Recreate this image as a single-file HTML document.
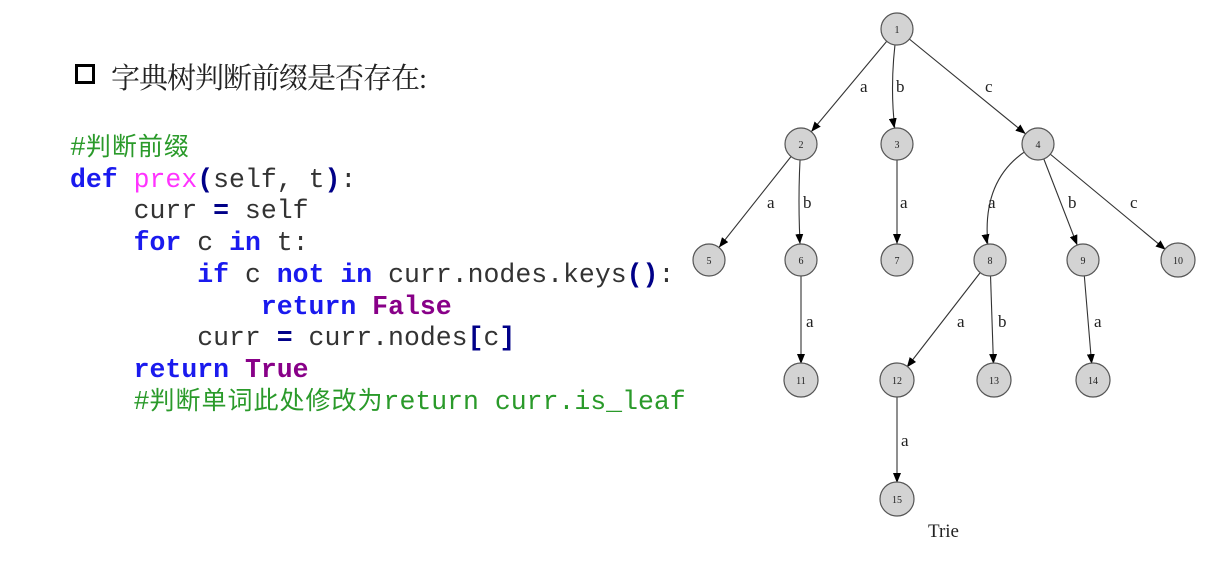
<!DOCTYPE html>
<html><head><meta charset="utf-8"><style>
html,body{margin:0;padding:0;background:#fff;width:1228px;height:568px;overflow:hidden;position:relative}
.t{position:absolute;left:111px;top:56px;font:29px "Liberation Serif","Noto Serif CJK SC",serif;color:#222;white-space:nowrap;letter-spacing:-1px}
.sq{position:absolute;left:75px;top:64px;width:14px;height:14px;border:3px solid #000}
.code{position:absolute;left:70px;top:133px;font:26.5px/31.7px "Liberation Mono","Noto Sans CJK SC",monospace;color:#333;white-space:pre;margin:0}
.k{color:#1a1aee;font-weight:bold}.f{color:#ff33ff}.c{color:#2a9a2a}.v{color:#880088;font-weight:bold}.b{color:#000088;font-weight:bold}
.cj{font-family:"Noto Sans CJK SC",sans-serif;font-size:25px;line-height:20px;letter-spacing:1px}
svg{position:absolute;left:0;top:0}
</style></head><body>
<div class="sq"></div>
<div class="t">字典树判断前缀是否存在:</div>
<pre class="code"><span class="c">#<span class="cj">判断前缀</span></span>
<span class="k">def</span> <span class="f">prex</span><span class="b">(</span>self, t<span class="b">)</span>:
    curr <span class="b">=</span> self
    <span class="k">for</span> c <span class="k">in</span> t:
        <span class="k">if</span> c <span class="k">not</span> <span class="k">in</span> curr.nodes.keys<span class="b">()</span>:
            <span class="k">return</span> <span class="v">False</span>
        curr <span class="b">=</span> curr.nodes<span class="b">[</span>c<span class="b">]</span>
    <span class="k">return</span> <span class="v">True</span>
    <span class="c">#<span class="cj">判断单词此处修改为</span>return curr.is_leaf</span></pre>
<svg width="1228" height="568" viewBox="0 0 1228 568">
<defs><marker id="a" markerUnits="userSpaceOnUse" viewBox="0 0 10 8" refX="26" refY="4" markerWidth="10" markerHeight="8" orient="auto"><path d="M0,0L10,4L0,8z" fill="#000"/></marker></defs>
<g stroke="#333" stroke-width="1.1" fill="none" marker-end="url(#a)">
<path d="M897,29L801,144"/>
<path d="M897,29Q888,90 897,144"/>
<path d="M897,29L1038,144"/>
<path d="M801,144L709,260"/>
<path d="M801,144Q797,200 801,260"/>
<path d="M897,144L897,260"/>
<path d="M1038,144Q975,175 990,260"/>
<path d="M1038,144L1083,260"/>
<path d="M1038,144L1178,260"/>
<path d="M801,260L801,380"/>
<path d="M990,260L897,380"/>
<path d="M990,260L994,380"/>
<path d="M1083,260L1093,380"/>
<path d="M897,380L897,499"/>
</g>
<g fill="#d3d3d3" stroke="#555" stroke-width="1.2">
<circle cx="897" cy="29" r="16"/><circle cx="801" cy="144" r="16"/><circle cx="897" cy="144" r="16"/><circle cx="1038" cy="144" r="16"/>
<circle cx="709" cy="260" r="16"/><circle cx="801" cy="260" r="16"/><circle cx="897" cy="260" r="16"/><circle cx="990" cy="260" r="16"/><circle cx="1083" cy="260" r="16"/><circle cx="1178" cy="260" r="17"/>
<circle cx="801" cy="380" r="17"/><circle cx="897" cy="380" r="17"/><circle cx="994" cy="380" r="17"/><circle cx="1093" cy="380" r="17"/><circle cx="897" cy="499" r="17"/>
</g>
<g font-family="Liberation Serif,serif" font-size="10" text-anchor="middle" fill="#222">
<text x="897" y="33">1</text><text x="801" y="148">2</text><text x="897" y="148">3</text><text x="1038" y="148">4</text>
<text x="709" y="264">5</text><text x="801" y="264">6</text><text x="897" y="264">7</text><text x="990" y="264">8</text><text x="1083" y="264">9</text><text x="1178" y="264">10</text>
<text x="801" y="384">11</text><text x="897" y="384">12</text><text x="994" y="384">13</text><text x="1093" y="384">14</text><text x="897" y="503">15</text>
</g>
<g font-family="Liberation Serif,serif" font-size="17" fill="#222">
<text x="860" y="92">a</text><text x="896" y="92">b</text><text x="985" y="92">c</text>
<text x="767" y="208">a</text><text x="803" y="208">b</text><text x="900" y="208">a</text><text x="988" y="208">a</text><text x="1068" y="208">b</text><text x="1130" y="208">c</text>
<text x="806" y="327">a</text><text x="957" y="327">a</text><text x="998" y="327">b</text><text x="1094" y="327">a</text>
<text x="901" y="446">a</text>
<text x="928" y="537" font-size="19">Trie</text>
</g>
</svg>
</body></html>
